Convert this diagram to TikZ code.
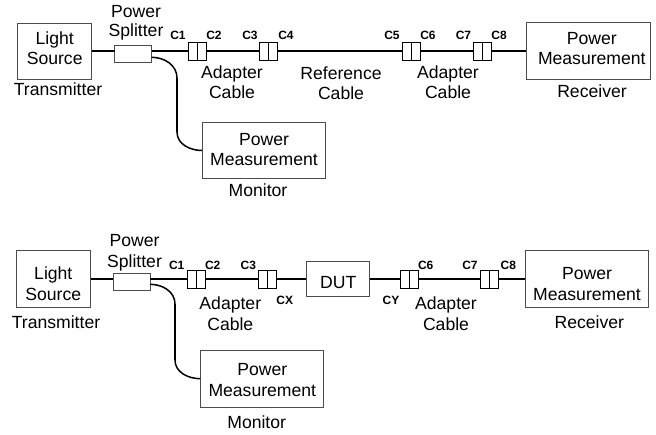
\documentclass[tikz,border=0pt]{standalone}
\usepackage{fontspec}
\setmainfont{Liberation Sans}
\usetikzlibrary{positioning}

\begin{document}
\begin{tikzpicture}[x=1pt, y=-1pt,
	boxx/.style={draw=black!70, line width=1pt, inner sep=0pt, align=center, font=\fontsize{17.6}{#1}\selectfont},
	boxx/.default=20,
	spli/.style={draw=black!70, line width=1pt, fill=white, inner sep=0pt, minimum width=37pt, minimum height=17pt},
	half/.style={draw, line width=0.8pt, fill=white, inner sep=0pt, minimum width=9pt, minimum height=18pt},
	lab/.style={anchor=base, inner sep=0pt, align=center, font=\fontsize{17.6}{20.5}\selectfont},
	con/.style={anchor=base, inner sep=0pt, font=\fontsize{12}{14}\selectfont\bfseries},
	fib/.style={line width=1.5pt},
	fibb/.style={line width=2pt}]
	\useasboundingbox (0,0) rectangle (656,434);

	% reference path
	\node[boxx, text depth=5.6pt, minimum width=74.5pt, minimum height=56pt] (lgt1) at (54.7,51) {Light\\Source};
	\node[spli] (spl1) at (133.2,54.2) {};
	\node[half] (c1) at (193,51) {};
	\node[half] (c2) at (202,51) {};
	\node[half] (c3) at (264.2,51) {};
	\node[half] (c4) at (273.2,51) {};
	\node[half] (c5) at (406.8,51) {};
	\node[half] (c6) at (415.8,51) {};
	\node[half] (c7) at (478.2,51) {};
	\node[half] (c8) at (487.2,51) {};
	\node[boxx=20.5, text depth=5.1pt, minimum width=123.7pt, minimum height=56.5pt] (rcv1) at (588.8,51) {\hspace*{6pt}Power\\\hspace*{6pt}Measurement};
	\node[boxx, text depth=1.6pt, minimum width=122.6pt, minimum height=56.4pt] (mon1) at (264,150.5) {Power\\Measurement};
	\coordinate (sa1) at (151.7,51);
	\coordinate (sb1) at (114.7,51);
	\coordinate (br1) at (151.7,57.3);
	\coordinate (tp1) at (177,78);
	\coordinate (bt1) at (177,132);
	\draw[fib] (lgt1) to (sb1);
	\draw[fib] (sa1) to (c1);
	\draw[fib] (c2) to (c3);
	\draw[fib] (c4) to (c5);
	\draw[fib] (c6) to (c7);
	\draw[fib] (c8) to (rcv1);
	\draw[fib] (br1) to[out=0, in=90] (tp1);
	\draw[fibb] (tp1) to (bt1);
	\draw[fib] (bt1) to[out=-90, in=180] (mon1.west);

	\node[lab] (t1) at (136,17.5) {Power};
	\node[lab] (t2) at (136,36.6) {Splitter};
	\node[lab] (t3) at (58,95.7) {Transmitter};
	\node[lab] (t4) at (232,78.3) {Adapter};
	\node[lab] (t5) at (232,98.3) {Cable};
	\node[lab] (t6) at (341,79) {Reference};
	\node[lab] (t7) at (341,99) {Cable};
	\node[lab] (t8) at (448,78) {Adapter};
	\node[lab] (t9) at (448,98) {Cable};
	\node[lab] (t10) at (592,97.7) {Receiver};
	\node[lab] (t11) at (258,196.7) {Monitor};
	\node[con] (n1) at (178,39.3) {C1};
	\node[con] (n2) at (214,39.3) {C2};
	\node[con] (n3) at (250,39.3) {C3};
	\node[con] (n4) at (286,39.3) {C4};
	\node[con] (n5) at (392,39.3) {C5};
	\node[con] (n6) at (428,39.3) {C6};
	\node[con] (n7) at (463.5,39.3) {C7};
	\node[con] (n8) at (499,39.3) {C8};

	% device path
	\node[boxx=21.4, text height=43.4pt, minimum width=74pt, minimum height=57.3pt] (lgt2) at (53.3,279) {Light\\Source};
	\node[spli] (spl2) at (131.5,281.8) {};
	\node[half] (d1) at (191.5,279) {};
	\node[half] (d2) at (200.5,279) {};
	\node[half] (d3) at (262.5,279) {};
	\node[half] (d4) at (271.5,279) {};
	\node[boxx, text height=18.6pt, text depth=0pt, minimum width=63pt, minimum height=34.7pt] (dut) at (338.2,279) {DUT};
	\node[half] (d6) at (404.8,279) {};
	\node[half] (d7) at (413.8,279) {};
	\node[half] (d8) at (484.8,279) {};
	\node[half] (d9) at (493.8,279) {};
	\node[boxx=21, text height=44pt, minimum width=122.6pt, minimum height=57.3pt] (rcv2) at (587,279) {Power\\Measurement};
	\node[boxx=21.5, text height=36pt, minimum width=122.7pt, minimum height=57.3pt] (mon2) at (262.3,378.7) {Power\\Measurement};
	\coordinate (sa2) at (150,279);
	\coordinate (sb2) at (113,279);
	\coordinate (br2) at (150,284.3);
	\coordinate (tp2) at (175,304);
	\coordinate (bt2) at (175,360);
	\draw[fib] (lgt2) to (sb2);
	\draw[fib] (sa2) to (d1);
	\draw[fib] (d2) to (d3);
	\draw[fib] (d4) to (dut);
	\draw[fib] (dut) to (d6);
	\draw[fib] (d7) to (d8);
	\draw[fib] (d9) to (rcv2);
	\draw[fib] (br2) to[out=0, in=90] (tp2);
	\draw[fibb] (tp2) to (bt2);
	\draw[fib] (bt2) to[out=-90, in=180] (mon2.west);

	\node[lab] (u1) at (134.5,246.7) {Power};
	\node[lab] (u2) at (134.5,267.7) {Splitter};
	\node[lab] (u3) at (56,328) {Transmitter};
	\node[lab] (u4) at (230.3,309.3) {Adapter};
	\node[lab] (u5) at (230.3,330.7) {Cable};
	\node[lab] (u6) at (446,309.3) {Adapter};
	\node[lab] (u7) at (446,330.5) {Cable};
	\node[lab] (u8) at (589.3,328.3) {Receiver};
	\node[lab] (u9) at (256.7,428.3) {Monitor};
	\node[con] (m1) at (176.7,269) {C1};
	\node[con] (m2) at (212.7,269) {C2};
	\node[con] (m3) at (248.3,269) {C3};
	\node[con] (mx) at (284.7,304.3) {CX};
	\node[con] (my) at (391,304.3) {CY};
	\node[con] (m6) at (425.7,269) {C6};
	\node[con] (m7) at (470,269) {C7};
	\node[con] (m8) at (508.3,269) {C8};
\end{tikzpicture}
\end{document}
